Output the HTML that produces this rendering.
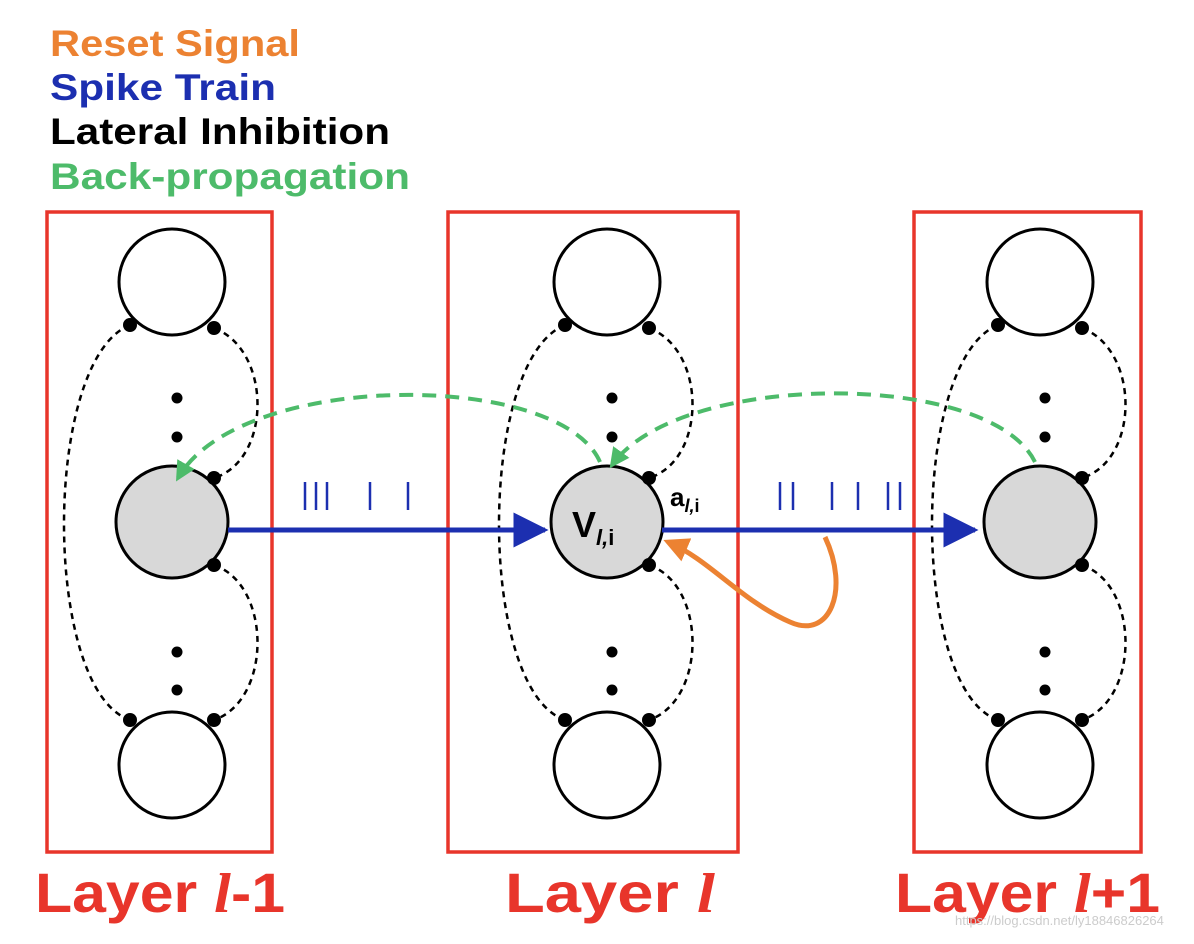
<!DOCTYPE html>
<html><head><meta charset="utf-8"><style>
html,body{margin:0;padding:0;background:#fff}
svg{display:block}
text{font-family:"Liberation Sans",Arial,sans-serif}
</style></head><body>
<svg width="1194" height="944" viewBox="0 0 1194 944" xmlns="http://www.w3.org/2000/svg">
<defs>
<marker id="ab" viewBox="0 0 10 10" refX="9" refY="5" markerWidth="7" markerHeight="7" orient="auto"><path d="M0,0 L10,5 L0,10 z" fill="#1c2fb0"/></marker>
<marker id="ag" viewBox="0 0 10 10" refX="8" refY="5" markerWidth="5" markerHeight="5" orient="auto"><path d="M0,0 L10,5 L0,10 z" fill="#4dbb6a"/></marker>
<marker id="ao" viewBox="0 0 10 10" refX="8" refY="5" markerWidth="5" markerHeight="5" orient="auto"><path d="M0,0 L10,5 L0,10 z" fill="#ec8232"/></marker>
</defs>
<g font-weight="bold" font-size="37">
<text x="50" y="56" fill="#ec8232" textLength="250" lengthAdjust="spacingAndGlyphs">Reset Signal</text>
<text x="50" y="100" fill="#1c2fb0" textLength="226" lengthAdjust="spacingAndGlyphs">Spike Train</text>
<text x="50" y="144" fill="#000" textLength="340" lengthAdjust="spacingAndGlyphs">Lateral Inhibition</text>
<text x="50" y="189" fill="#4dbb6a" textLength="360" lengthAdjust="spacingAndGlyphs">Back-propagation</text>
</g>
<g fill="none" stroke="#e8352b" stroke-width="3.5">
<rect x="47" y="212" width="225" height="640"/>
<rect x="448" y="212" width="290" height="640"/>
<rect x="914" y="212" width="227" height="640"/>
</g>
<g fill="#e8352b" font-size="56" font-weight="bold">
<text x="35" y="912" textLength="250" lengthAdjust="spacingAndGlyphs">Layer <tspan font-style="italic" font-family="Liberation Serif">l</tspan>-1</text>
<text x="505" y="912" textLength="210" lengthAdjust="spacingAndGlyphs">Layer <tspan font-style="italic" font-family="Liberation Serif">l</tspan></text>
<text x="895" y="912" textLength="265" lengthAdjust="spacingAndGlyphs">Layer <tspan font-style="italic" font-family="Liberation Serif">l</tspan>+1</text>
</g>
<script>
var cols=[172,607,1040];
var svg=document.querySelector('svg');
var NS='http://www.w3.org/2000/svg';
function mk(t,a,p){var e=document.createElementNS(NS,t);for(var k in a)e.setAttribute(k,a[k]);(p||svg).appendChild(e);return e;}
cols.forEach(function(x,i){
 var g=mk('g',{});
 
 
 var d='stroke:#000;stroke-width:2.5;stroke-dasharray:6 5;fill:none';
 var p1=mk('path',{d:'M'+(x-42)+',325 C'+(x-130)+',360 '+(x-130)+',690 '+(x-42)+',720',style:d},g);
 
 var p2=mk('path',{d:'M'+(x+42)+',328 C'+(x+100)+',350 '+(x+100)+',460 '+(x+42)+',478',style:d},g);
 
 var p3=mk('path',{d:'M'+(x+42)+',565 C'+(x+100)+',585 '+(x+100)+',700 '+(x+42)+',720',style:d},g);
 
 [[282,'#fff','neuron-top',53],[522,'#d8d8d8','neuron-middle',56],[765,'#fff','neuron-bottom',53]].forEach(function(c){
  var e=mk('circle',{cx:x,cy:c[0],r:c[3],fill:c[1],stroke:'#000','stroke-width':3},g);
  
 });
 [[x-42,325],[x+42,328],[x+42,478],[x+42,565],[x-42,720],[x+42,720]].forEach(function(p){
  var e=mk('circle',{cx:p[0],cy:p[1],r:7,fill:'#000'},g);
  
 });
 [398,437,652,690].forEach(function(y){
  var e=mk('circle',{cx:x+5,cy:y,r:5.5,fill:'#000'},g);
  
 });
});
function L(d,st,m,n){var e=mk('path',{d:d,style:st,'marker-end':m});}
var gs='stroke:#4dbb6a;stroke-width:4;stroke-dasharray:14 9;fill:none';
L('M600,462 C560,370 240,370 178,478',gs,'url(#ag)','backprop-arrow-to-prev');
L('M1035,462 C990,370 680,370 612,465',gs,'url(#ag)','backprop-arrow-to-current');
var bs='stroke:#1c2fb0;stroke-width:5;fill:none';
L('M228,530 L545,530',bs,'url(#ab)','spike-arrow-prev-to-current');
L('M662,530 L975,530',bs,'url(#ab)','spike-arrow-current-to-next');
L('M825,537 C850,590 830,640 790,622 C740,600 710,560 668,542','stroke:#ec8232;stroke-width:5;fill:none','url(#ao)','reset-signal-arrow');
[305,316,327,370,408,780,793,832,858,888,900].forEach(function(x){
 var e=mk('line',{x1:x,y1:482,x2:x,y2:510,stroke:'#1c2fb0','stroke-width':2.5});
 
});
</script>
<text x="572" y="537" font-size="36" font-weight="bold">V<tspan font-size="22" dy="8" font-style="italic">l,</tspan><tspan font-size="22">i</tspan></text>
<text x="670" y="506" font-size="26" font-weight="bold">a<tspan font-size="18" dy="6" font-style="italic">l,</tspan><tspan font-size="18">i</tspan></text>
<text x="955" y="925" font-size="13" fill="#ccc">https://blog.csdn.net/ly18846826264</text>
</svg>
</body></html>
